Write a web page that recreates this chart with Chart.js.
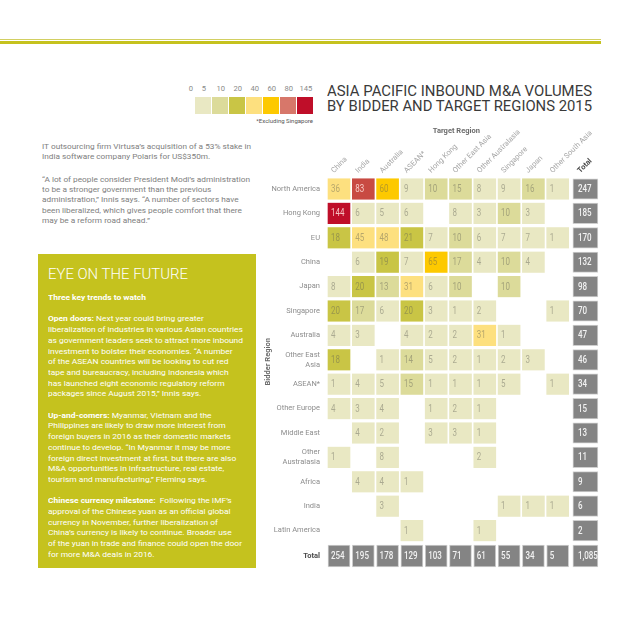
<!DOCTYPE html>
<html>
<head>
<meta charset="utf-8">
<script src="https://cdn.jsdelivr.net/npm/chart.js@4.4.1/dist/chart.umd.min.js"></script>
<style>
html,body{margin:0;padding:0;background:#fff;width:640px;height:640px;overflow:hidden;font-family:Roboto,"DejaVu Sans",sans-serif;}
#wrap{position:relative;width:640px;height:640px;}
#c{position:absolute;left:0;top:0;width:640px;height:640px;}
.abs{position:absolute;white-space:nowrap;}
.ln{display:block;white-space:nowrap;}
#rule1{position:absolute;left:0;top:39px;width:601px;height:1px;background:#d2cf62;}
#rule2{position:absolute;left:0;top:41px;width:601px;height:3px;background:#c5c21e;}
.title{left:327px;font-size:15px;line-height:15.7px;color:#3a3a3a;}
.para{left:42px;font-size:7.6px;line-height:10.2px;color:#7e7e7e;}
#box{position:absolute;left:38px;top:254px;width:218px;height:314px;background:#c5c21e;}
#eye{left:48px;top:266px;font-size:15.5px;line-height:16px;color:#fff;font-weight:300;}
#boxtext{left:48px;top:293px;font-size:7.8px;line-height:10.7px;color:#fff;}
#boxtext b{font-weight:bold;}
.sw{position:absolute;top:97px;width:15.5px;height:16.5px;}
.lg{position:absolute;top:84px;font-size:7.6px;line-height:10px;color:#8a8a8a;transform:translateX(-50%);}
#excl{right:327px;top:117px;font-size:6px;line-height:8px;color:#555;}
</style>
</head>
<body>
<div id="wrap">
<div id="rule1"></div><div id="rule2"></div>
<div class="abs title" style="top:83.7px" data-w="265"><span class="ln">ASIA PACIFIC INBOUND M&amp;A VOLUMES</span></div>
<div class="abs title" style="top:99.4px" data-w="265"><span class="ln">BY BIDDER AND TARGET REGIONS 2015</span></div>
<div id="legend"></div>
<div class="abs" id="excl">*Excluding Singapore</div>

<div class="abs para" style="top:141.6px" data-w="209">
<span class="ln">IT outsourcing firm Virtusa’s acquisition of a 53% stake in</span>
<span class="ln">India software company Polaris for US$350m.</span>
</div>
<div class="abs para" style="top:174.9px" data-w="208">
<span class="ln">“A lot of people consider President Modi’s administration</span>
<span class="ln">to be a stronger government than the previous</span>
<span class="ln">administration,” Innis says. “A number of sectors have</span>
<span class="ln">been liberalized, which gives people comfort that there</span>
<span class="ln">may be a reform road ahead.”</span>
</div>

<div id="box"></div>
<div class="abs" id="eye" data-w="140"><span class="ln">EYE ON THE FUTURE</span></div>
<div class="abs" id="boxtext" data-w="195">
<span class="ln"><b>Three key trends to watch</b></span>
<span class="ln">&nbsp;</span>
<span class="ln"><b>Open doors:</b> Next year could bring greater</span>
<span class="ln">liberalization of industries in various Asian countries</span>
<span class="ln">as government leaders seek to attract more inbound</span>
<span class="ln">investment to bolster their economies. “A number</span>
<span class="ln">of the ASEAN countries will be looking to cut red</span>
<span class="ln">tape and bureaucracy, including Indonesia which</span>
<span class="ln">has launched eight economic regulatory reform</span>
<span class="ln">packages since August 2015,” Innis says.</span>
<span class="ln">&nbsp;</span>
<span class="ln"><b>Up-and-comers:</b> Myanmar, Vietnam and the</span>
<span class="ln">Philippines are likely to draw more interest from</span>
<span class="ln">foreign buyers in 2016 as their domestic markets</span>
<span class="ln">continue to develop. “In Myanmar it may be more</span>
<span class="ln">foreign direct investment at first, but there are also</span>
<span class="ln">M&amp;A opportunities in infrastructure, real estate,</span>
<span class="ln">tourism and manufacturing,” Fleming says.</span>
<span class="ln">&nbsp;</span>
<span class="ln"><b>Chinese currency milestone:</b>&nbsp; Following the IMF’s</span>
<span class="ln">approval of the Chinese yuan as an official global</span>
<span class="ln">currency in November, further liberalization of</span>
<span class="ln">China’s currency is likely to continue. Broader use</span>
<span class="ln">of the yuan in trade and finance could open the door</span>
<span class="ln">for more M&amp;A deals in 2016.</span>
</div>

<canvas id="c" width="640" height="640"></canvas>
</div>
<script>
// ---------- DATA ----------
const targetRegions = ['China','India','Australia','ASEAN*','Hong Kong','Other East Asia','Other Australasia','Singapore','Japan','Other South Asia'];
const bidderRegions = ['North America','Hong Kong','EU','China','Japan','Singapore','Australia',['Other East','Asia'],'ASEAN*','Other Europe','Middle East',['Other','Australasia'],'Africa','India','Latin America'];

const volNorthAmerica    = [36, 83, 60, 9, 10, 15, 8, 9, 16, 1];
const volHongKong        = [144, 6, 5, 6, null, 8, 3, 10, 3, null];
const volEU              = [18, 45, 48, 21, 7, 10, 6, 7, 7, 1];
const volChina           = [null, 6, 19, 7, 65, 17, 4, 10, 4, null];
const volJapan           = [8, 20, 13, 31, 6, 10, null, 10, null, null];
const volSingapore       = [20, 17, 6, 20, 3, 1, 2, null, null, 1];
const volAustralia       = [4, 3, null, 4, 2, 2, 31, 1, null, null];
const volOtherEastAsia   = [18, null, 1, 14, 5, 2, 1, 2, 3, null];
const volASEAN           = [1, 4, 5, 15, 1, 1, 1, 5, null, 1];
const volOtherEurope     = [4, 3, 4, null, 1, 2, 1, null, null, null];
const volMiddleEast      = [null, 4, 2, null, 3, 3, 1, null, null, null];
const volOtherAustralasia= [1, null, 8, null, null, null, 2, null, null, null];
const volAfrica          = [null, 4, 4, 1, null, null, null, null, null, null];
const volIndia           = [null, null, 3, null, null, null, null, 1, 1, 1];
const volLatinAmerica    = [null, null, null, 1, null, null, 1, null, null, null];

const bidderTotals = [247, 185, 170, 132, 98, 70, 47, 46, 34, 15, 13, 11, 9, 6, 2];
const targetTotals = [254, 195, 178, 129, 103, 71, 61, 55, 34, 5];
const grandTotal = 1085;
const legendStops = [0, 5, 10, 20, 40, 60, 80, 145];

const volumes = [volNorthAmerica, volHongKong, volEU, volChina, volJapan, volSingapore, volAustralia,
  volOtherEastAsia, volASEAN, volOtherEurope, volMiddleEast, volOtherAustralasia, volAfrica, volIndia, volLatinAmerica];

// ---------- STYLE ----------
const legendColors = ['#e9e8c3','#dcdb9a','#c9c545','#fde07f','#fdc900','#d7776a','#bf0e29'];
function colorFor(v){
  if (v < 10) return '#e9e8c3';
  if (v < 18) return '#dcdb9a';
  if (v < 25) return '#c9c545';
  if (v < 50) return '#fde07f';
  if (v < 80) return '#fdc900';
  if (v < 100) return '#c84a42';
  return '#bf0e29';
}
function textColorFor(v){
  if (v >= 80) return 'rgba(255,225,220,0.85)';
  return 'rgba(95,95,85,0.45)';
}
const TOTAL_GRAY = '#848484';

// legend (HTML)
(function(){
  const lg = document.getElementById('legend');
  legendColors.forEach((c,i)=>{
    const d = document.createElement('div'); d.className='sw';
    d.style.left = (195 + i*17) + 'px'; d.style.background = c; lg.appendChild(d);
  });
  legendStops.forEach((s,i)=>{
    const d = document.createElement('div'); d.className='lg';
    d.style.left = (i===0 ? 191 : 195 + (i-1)*17 + 8.8) + 'px';
    d.textContent = s; lg.appendChild(d);
  });
})();

// fit text widths
function fitBlocks(){
  document.querySelectorAll('[data-w]').forEach(el=>{
    el.style.transform='none';
    let maxw = 0;
    el.querySelectorAll('.ln').forEach(l=>{
      const r = document.createRange(); r.selectNodeContents(l);
      maxw = Math.max(maxw, r.getBoundingClientRect().width);
    });
    const k = parseFloat(el.dataset.w)/maxw;
    el.style.transformOrigin='0 0';
    el.style.transform='scaleX('+k+')';
  });
}
fitBlocks();

// ---------- CHART ----------
const TOTAL_X = targetRegions.length + 0.14;
const TOTAL_Y = bidderRegions.length + 0.04;
const CELL_H = 0.84, TOTROW_H = 0.9;

const cellData = [];
volumes.forEach((row, r)=>row.forEach((v, c)=>{
  if (v !== null) cellData.push({x:c, y:[r-CELL_H/2, r+CELL_H/2], v:v});
}));
const rowTotalData = bidderTotals.map((v, r)=>({x:TOTAL_X, y:[r-CELL_H/2, r+CELL_H/2], v:v}));
const colTotalData = targetTotals.map((v, c)=>({x:c, y:[TOTAL_Y-TOTROW_H/2, TOTAL_Y+TOTROW_H/2], v:v}));
const grandData = [{x:TOTAL_X, y:[TOTAL_Y-TOTROW_H/2, TOTAL_Y+TOTROW_H/2], v:grandTotal}];

const xTickVals = targetRegions.map((_,i)=>i).concat([TOTAL_X]);
const xTickLabels = targetRegions.concat(['Total']);
const yTickVals = bidderRegions.map((_,i)=>i).concat([TOTAL_Y]);
const yTickLabels = bidderRegions.concat(['Total']);

const FONT = 'Roboto';

const cellText = {
  id:'cellText',
  afterDatasetsDraw(chart){
    const ctx = chart.ctx;
    chart.data.datasets.forEach((ds, di)=>{
      const meta = chart.getDatasetMeta(di);
      const isTotal = di > 0;
      meta.data.forEach((el, i)=>{
        const p = ds.data[i];
        const pr = el.getProps(['x','y','base','width'], true);
        const left = pr.x - pr.width/2;
        const cy = (pr.y + pr.base)/2;
        ctx.save();
        ctx.translate(left + (isTotal && (di===1||di===3) ? 5 : 3), cy + 0.5);
        ctx.scale(0.8, 1);
        ctx.font = (isTotal ? '500 ' : '') + '10px ' + FONT;
        ctx.fillStyle = isTotal ? '#f2f2f2' : textColorFor(p.v);
        ctx.textAlign = 'left';
        ctx.textBaseline = 'middle';
        ctx.fillText(p.v.toLocaleString('en-US'), 0, 0);
        ctx.restore();
      });
    });
  },
  afterDraw(chart){
    const ctx = chart.ctx;
    const xs = chart.scales.x, ys = chart.scales.y;
    ctx.save();
    ctx.font = 'bold 7.5px ' + FONT;
    ctx.fillStyle = '#6a6a6a';
    ctx.textAlign = 'center';
    ctx.textBaseline = 'middle';
    ctx.fillText('Target Region', (xs.getPixelForValue(0) + xs.getPixelForValue(targetRegions.length-1))/2 + 8, 131);
    ctx.translate(268, (ys.getPixelForValue(6) + ys.getPixelForValue(8))/2 + 2);
    ctx.rotate(-Math.PI/2);
    ctx.fillText('Bidder Region', 0, 0);
    ctx.restore();
  }
};

const barCommon = {grouped:false, borderSkipped:false};
new Chart(document.getElementById('c'), {
  type:'bar',
  data:{
    datasets:[
      Object.assign({label:'cells', data:cellData, barThickness:22,
        backgroundColor:c=>colorFor(c.raw.v), borderWidth:0}, barCommon),
      Object.assign({label:'rowTotals', data:rowTotalData, barThickness:25,
        backgroundColor:TOTAL_GRAY, borderColor:'#cfcfcf', borderWidth:1}, barCommon),
      Object.assign({label:'colTotals', data:colTotalData, barThickness:22,
        backgroundColor:TOTAL_GRAY, borderColor:'#cfcfcf', borderWidth:1}, barCommon),
      Object.assign({label:'grand', data:grandData, barThickness:25,
        backgroundColor:TOTAL_GRAY, borderColor:'#cfcfcf', borderWidth:1}, barCommon)
    ]
  },
  options:{
    responsive:false,
    animation:false,
    events:[],
    layout:{padding:{left:0, top:0, right:40, bottom:70}},
    plugins:{legend:{display:false}, tooltip:{enabled:false}, title:{display:false}},
    scales:{
      x:{
        type:'linear', position:'top', min:-0.535, max:10.741, offset:false,
        grid:{display:false, drawTicks:false}, border:{display:false},
        afterBuildTicks:s=>{ s.ticks = xTickVals.map(v=>({value:v})); },
        afterFit:s=>{ s.height = 176; },
        ticks:{
          autoSkip:false, minRotation:45, maxRotation:45, padding:1,
          callback:(v, i)=>xTickLabels[i],
          color:c=>c.index===targetRegions.length ? '#4a4a4a' : '#a6a6a6',
          font:c=>c.index===targetRegions.length ? {family:FONT, size:7.5, weight:'bold'} : {family:FONT, size:7.5}
        }
      },
      y:{
        type:'linear', reverse:true, min:-0.533, max:15.615, offset:false,
        grid:{display:false, drawTicks:false}, border:{display:false},
        afterBuildTicks:s=>{ s.ticks = yTickVals.map(v=>({value:v})); },
        afterFit:s=>{ s.width = 326; },
        ticks:{
          autoSkip:false, padding:6,
          callback:(v, i)=>yTickLabels[i],
          color:c=>c.index===bidderRegions.length ? '#4a4a4a' : '#8c8c8c',
          font:c=>c.index===bidderRegions.length ? {family:FONT, size:7.5, weight:'bold', lineHeight:1.3} : {family:FONT, size:7.5, lineHeight:1.3}
        }
      }
    }
  },
  plugins:[cellText]
});
</script>
</body>
</html>
